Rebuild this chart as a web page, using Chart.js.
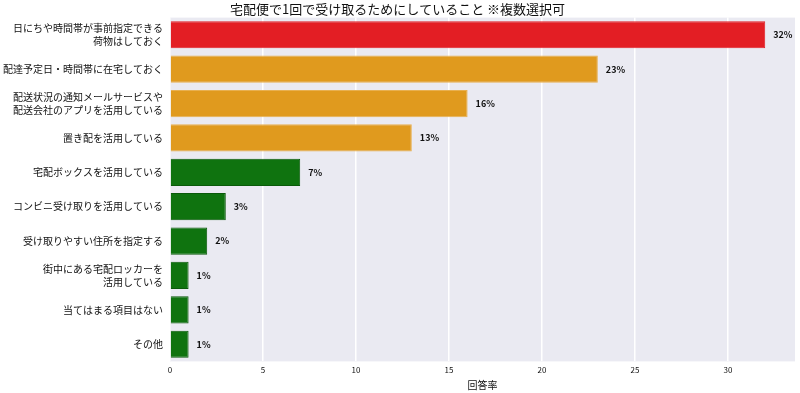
<!DOCTYPE html>
<html>
<head>
<meta charset="utf-8">
<script src="https://cdn.jsdelivr.net/npm/chart.js@4"></script>
<style>
  html, body { margin: 0; padding: 0; background: #fff; }
  #wrap { width: 800px; height: 393px; }
</style>
</head>
<body>
<div id="wrap"><canvas id="chart"></canvas></div>
<script>
const categories = [
  ["日にちや時間帯が事前指定できる", "荷物はしておく"],
  "配達予定日・時間帯に在宅しておく",
  ["配送状況の通知メールサービスや", "配送会社のアプリを活用している"],
  "置き配を活用している",
  "宅配ボックスを活用している",
  "コンビニ受け取りを活用している",
  "受け取りやすい住所を指定する",
  ["街中にある宅配ロッカーを", "活用している"],
  "当てはまる項目はない",
  "その他",
];
const values = [32, 23, 16, 13, 7, 3, 2, 1, 1, 1];
const valueLabels = ["32%", "23%", "16%", "13%", "7%", "3%", "2%", "1%", "1%", "1%"];
const xTicks = [0, 5, 10, 15, 20, 25, 30];

const barColors = values.map((v) => (v >= 30 ? "#e31e24" : v >= 10 ? "#e09a1e" : "#0f730f"));
const barBorders = values.map((v) => (v >= 30 ? "#e31e24" : v >= 10 ? "#e8b050" : "#0a5a0a"));

const fontFamily = "'Noto Sans CJK JP', 'Noto Sans', sans-serif";

// seaborn-like plot background
const plotBg = {
  id: "plotBg",
  beforeDraw(chart) {
    const { ctx, chartArea: a } = chart;
    ctx.save();
    ctx.fillStyle = "#eaeaf2";
    ctx.fillRect(a.left, a.top, a.right - a.left, a.bottom - a.top);
    ctx.restore();
  },
};

// percentage text right of each bar
const barValues = {
  id: "barValues",
  afterDatasetsDraw(chart) {
    const { ctx } = chart;
    const meta = chart.getDatasetMeta(0);
    ctx.save();
    ctx.font = "bold 9px " + fontFamily;
    ctx.fillStyle = "#111";
    ctx.textBaseline = "middle";
    meta.data.forEach((bar, i) => {
      ctx.fillText(valueLabels[i], bar.x + 8, bar.y);
    });
    ctx.restore();
  },
};

new Chart(document.querySelector("#chart"), {
  type: "bar",
  data: {
    labels: categories,
    datasets: [
      {
        data: values,
        backgroundColor: barColors,
        borderColor: barBorders,
        borderWidth: 1,
        categoryPercentage: 1,
        barPercentage: 0.79,
      },
    ],
  },
  options: {
    indexAxis: "y",
    responsive: true,
    maintainAspectRatio: false,
    animation: false,
    layout: { padding: { left: 0, right: 5, top: 1, bottom: 2 } },
    plugins: {
      legend: { display: false },
      tooltip: { enabled: false },
      title: {
        display: true,
        text: "宅配便で1回で受け取るためにしていること ※複数選択可",
        color: "#111",
        font: { family: fontFamily, size: 13, weight: "normal" },
        padding: { top: 0, bottom: 1 },
      },
    },
    scales: {
      x: {
        min: 0,
        max: 33.6,
        afterBuildTicks: (scale) => {
          scale.ticks = xTicks.map((v) => ({ value: v }));
        },
        grid: { color: "#ffffff", lineWidth: 1.5, drawTicks: false },
        border: { display: false },
        ticks: { color: "#111", font: { family: fontFamily, size: 8 }, padding: 4 },
        title: {
          display: true,
          text: "回答率",
          color: "#111",
          font: { family: fontFamily, size: 10 },
          padding: { top: 0, bottom: 0 },
        },
      },
      y: {
        afterFit: (scale) => {
          scale.width = 170;
        },
        grid: { display: false, drawTicks: false },
        border: { display: false },
        ticks: { color: "#111", font: { family: fontFamily, size: 10, lineHeight: 1.3 }, padding: 7 },
      },
    },
  },
  plugins: [plotBg, barValues],
});
</script>
</body>
</html>
